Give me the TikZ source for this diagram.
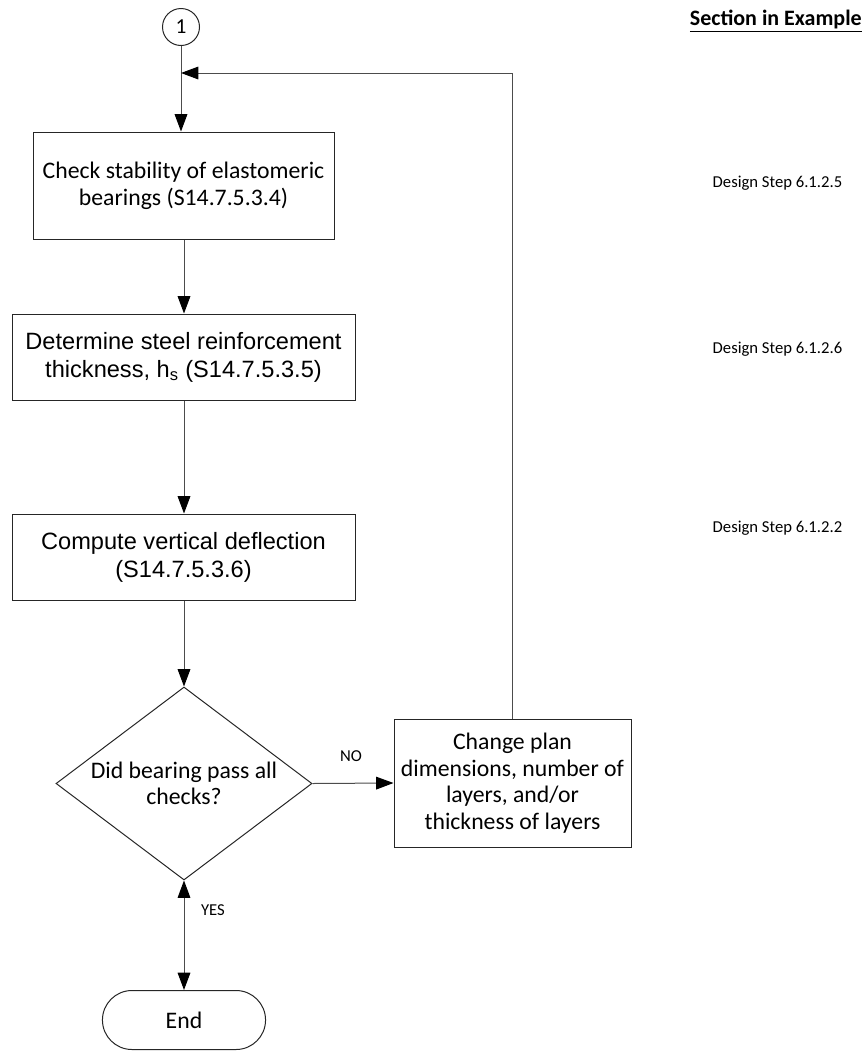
\documentclass[tikz,border=0pt]{standalone}
\usepackage{fontspec}
\setmainfont{Carlito}
\newfontfamily\arialfont{Liberation Sans}
\usetikzlibrary{arrows.meta,shapes.geometric,shapes.misc}

\begin{document}
\begin{tikzpicture}[x=0.75pt,y=-0.75pt,
  >={Triangle[length=13pt,width=9.5pt,color=black]},
  conn/.style={draw=black!70,line width=0.75pt},
  procbox/.style={draw=black!85,line width=0.75pt,rectangle,align=center,inner sep=0pt},
  cfont/.style={font=\fontsize{17.8}{20}\selectfont},
  afont/.style={font=\arialfont\fontsize{17.7}{21}\selectfont},
  small/.style={font=\fontsize{12.5}{15}\selectfont}]
  \useasboundingbox (0,0) rectangle (867,1054);
  % connector circle and process boxes
  \node[draw=black!85,line width=0.75pt,circle,minimum size=27.75pt,inner sep=0pt,
    font=\fontsize{16}{18}\selectfont] (c1) at (181,27) {1};
  \node[procbox,cfont,minimum width=225.75pt,minimum height=80.25pt] (check) at (183.5,185.5)
    {Check stability of elastomeric\\bearings (S14.7.5.3.4)};
  \node[procbox,afont,minimum width=257.25pt,minimum height=64.5pt] (steel) at (183.5,357)
    {Determine steel reinforcement\\thickness, h\textsubscript{s} (S14.7.5.3.5)};
  \node[procbox,afont,minimum width=257.25pt,minimum height=64.5pt] (defl) at (183.5,557)
    {Compute vertical deflection\\(S14.7.5.3.6)};
  \node[diamond,draw=black!85,line width=0.75pt,minimum width=192pt,minimum height=144.75pt,
    inner sep=0pt] (pass) at (184,783.5) {};
  \node[cfont,align=center] (passtxt) at (pass) {Did bearing pass all\\checks?};
  \node[procbox,cfont,minimum width=177.75pt,minimum height=96pt] (change) at (512.5,783)
    {Change plan\\dimensions, number of\\layers, and/or\\thickness of layers};
  \node[rounded rectangle,draw=black!85,line width=0.75pt,minimum width=129pt,minimum height=44.25pt,
    cfont] (end) at (184,1020) {End};
  \coordinate (loop) at (181,73);

  % connectors
  \draw[conn,->] (c1.south) -- (c1.south |- check.north);
  \draw[conn,->] (check.south -| pass.north) -- (steel.north -| pass.north);
  \draw[conn,->] (steel.south -| pass.north) -- (defl.north -| pass.north);
  \draw[conn,->] (defl.south -| pass.north) -- (pass.north);
  \draw[conn,->] (pass.east) -- (change.west);
  \draw[conn,<->] (pass.south) -- (end.north);
  \draw[conn,->] (change.north) |- (loop);
  \node[small] (no) at (351,756) {NO};
  \node[small] (yes) at (213,910) {YES};

  % right column
  \node[font=\bfseries\fontsize{16.5}{18}\selectfont,anchor=east,inner sep=0pt] (sect) at (862,21)
    {\underline{Section in Example}};
  \foreach \y/\s [count=\i] in {183/6.1.2.5,349/6.1.2.6,528/6.1.2.2}
  {
    \node[small,anchor=west] (ds\i) at (708,\y) {Design Step \s};
  }
\end{tikzpicture}
\end{document}
